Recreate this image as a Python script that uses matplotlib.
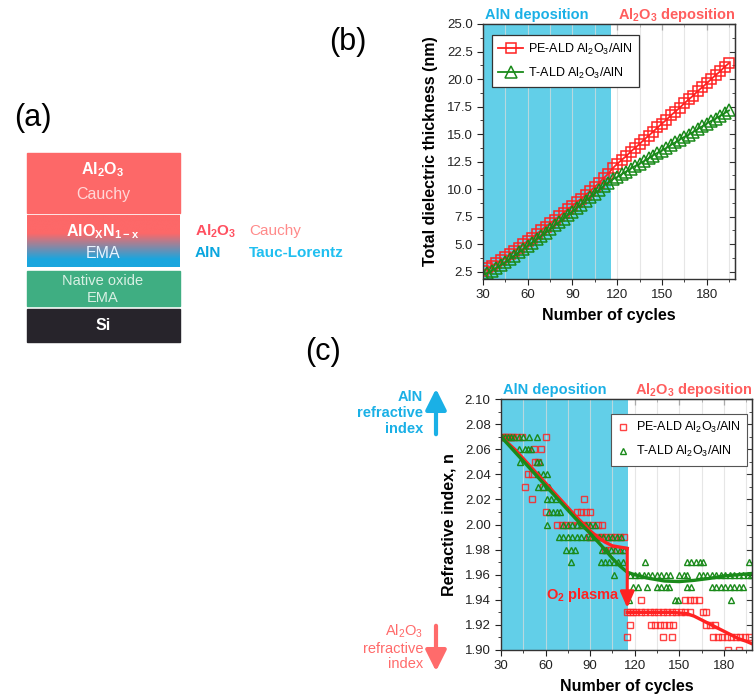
import numpy as np
import matplotlib
matplotlib.use('Agg')
import matplotlib.pyplot as plt
from matplotlib.patches import Rectangle
from matplotlib.ticker import MultipleLocator

plt.rcParams['font.family'] = ['Liberation Sans', 'DejaVu Sans']
plt.rcParams['mathtext.default'] = 'regular'

# ---- panel (b): total thickness vs cycles ----
cycles_b = list(range(30, 198, 3))
pe_thick = [2.6, 2.8, 3.05, 3.3, 3.55, 3.8, 4.1, 4.4, 4.7, 5.0,
            5.3, 5.6, 5.95, 6.25, 6.6, 6.9, 7.2, 7.55, 7.85, 8.2,
            8.5, 8.85, 9.15, 9.5, 9.85, 10.2, 10.6, 11.0, 11.4, 11.9,
            12.3, 12.65, 13.0, 13.4, 13.75, 14.1, 14.5, 14.85, 15.2, 15.6,
            15.95, 16.3, 16.7, 17.05, 17.4, 17.8, 18.15, 18.5, 18.9, 19.25,
            19.6, 20.0, 20.35, 20.7, 21.1, 21.45]
t_thick = [2.2, 2.4, 2.6, 2.85, 3.1, 3.35, 3.65, 3.95, 4.25, 4.55,
           4.85, 5.15, 5.45, 5.75, 6.05, 6.35, 6.7, 7.0, 7.3, 7.65,
           7.95, 8.3, 8.6, 8.95, 9.3, 9.6, 9.95, 10.3, 10.6, 10.9,
           11.1, 11.35, 11.6, 11.85, 12.1, 12.3, 12.55, 12.8, 13.05, 13.3,
           13.5, 13.75, 14.0, 14.25, 14.5, 14.75, 14.95, 15.2, 15.45, 15.7,
           15.95, 16.2, 16.4, 16.65, 16.9, 17.15]

# ---- panel (c): refractive index scatter ----
pe_x = [30.5, 32, 33.5, 35, 36.5, 38, 41, 44, 60,
        52, 57,
        53, 55,
        48, 51,
        46, 58,
        51, 86,
        60, 81, 84, 87, 90,
        68, 71, 74, 77, 82, 85, 88, 91, 95, 98,
        89, 92, 95, 98, 101, 104, 107, 110, 113,
        100, 104, 108, 112,
        124, 154, 157, 160, 163,
        115, 117, 119, 121, 124, 127, 130, 133, 136, 139, 142, 145, 148, 151, 154, 157, 166, 168,
        117, 131, 134, 137, 140, 143, 146, 168, 171, 174,
        115, 139, 145, 173, 176, 179, 182, 185, 188, 191, 194, 197,
        183, 190]
pe_n = [2.07] * 9 + [2.06] * 2 + [2.05] * 2 + [2.04] * 2 + [2.03] * 2 + [2.02] * 2 \
    + [2.01] * 5 + [2.00] * 10 + [1.99] * 9 + [1.98] * 4 + [1.94] * 5 \
    + [1.93] * 18 + [1.92] * 10 + [1.91] * 12 + [1.90] * 2

t_x = [31, 33, 35, 37, 39, 42, 45, 49, 54,
       42, 46, 48, 50,
       43, 54, 56,
       55, 58, 61,
       55, 58, 62,
       61, 64, 67,
       62, 65, 68, 70,
       61, 72, 75, 78, 81, 84, 87, 90, 93,
       69, 72, 75, 78, 81, 84, 87, 90, 93, 96, 99, 102, 105, 108, 111,
       74, 77, 80, 98, 101, 104, 107, 110, 113,
       77, 97, 100, 103, 106, 109, 112, 127, 155, 158, 161, 164, 166, 197,
       106, 117, 120, 123, 126, 129, 132, 135, 138, 141, 144, 150, 153, 155,
       163, 166, 169, 172, 175, 178, 181, 184, 187, 190, 193, 196, 198,
       119, 122, 128, 135, 138, 141, 143, 155, 158, 172, 175, 178, 181, 184, 187, 190, 193,
       116, 147, 149, 185]
t_n = [2.07] * 9 + [2.06] * 4 + [2.05] * 3 + [2.04] * 3 + [2.03] * 3 + [2.02] * 3 \
    + [2.01] * 4 + [2.00] * 9 + [1.99] * 15 + [1.98] * 9 + [1.97] * 14 \
    + [1.96] * 27 + [1.95] * 17 + [1.94] * 4

pe_fit1_x = [30, 40, 50, 60, 70, 80, 90, 95, 100, 105, 110, 115]
pe_fit1_n = [2.070, 2.059, 2.046, 2.033, 2.020, 2.007, 1.995, 1.990, 1.986, 1.983, 1.982, 1.981]
pe_fit2_x = [115, 125, 135, 145, 150, 155, 160, 165, 170, 175, 180, 185, 190, 195, 199]
pe_fit2_n = [1.930, 1.930, 1.930, 1.930, 1.9295, 1.929, 1.927, 1.924, 1.921, 1.918,
             1.915, 1.912, 1.909, 1.907, 1.905]
t_fit_x = [30, 40, 50, 60, 70, 80, 90, 100, 105, 110, 115, 120, 130, 140, 150,
           160, 170, 180, 190, 199]
t_fit_n = [2.070, 2.057, 2.044, 2.031, 2.018, 2.005, 1.993, 1.980, 1.973, 1.967,
           1.962, 1.960, 1.957, 1.955, 1.9545, 1.9555, 1.957, 1.959, 1.960, 1.961]

CYAN = '#62cfe8'
RED = '#ff2222'
GREEN = '#1a8a1a'
PINK = '#ff5e5e'
BLUE_T = '#1ab0e6'

fig = plt.figure(figsize=(7.56, 6.98), dpi=100)

# overlay in pixel coords for panel (a) and free text
ax0 = fig.add_axes([0, 0, 1, 1], zorder=0)
ax0.set_xlim(0, 756)
ax0.set_ylim(698, 0)
ax0.axis('off')

# ---- panel (a) layer stack ----
ax0.add_patch(Rectangle((27, 153), 153, 60, color='#fd6868'))
grad = np.linspace(0, 1, 100)
w = np.clip((grad - 0.35) / 0.5, 0, 1)[:, None, None]
top_c = np.array([253, 104, 104]) / 255
bot_c = np.array([26, 166, 222]) / 255
img = (1 - w) * top_c + w * bot_c
ax0.imshow(img, extent=(27, 180, 267, 215), aspect='auto', zorder=1)
ax0.add_patch(Rectangle((27, 271), 153, 35, color='#3fae82'))
ax0.add_patch(Rectangle((27, 309), 153, 33, color='#27242b'))

ax0.text(103, 170, r'Al$_2$O$_3$', color='white', fontsize=11.5, fontweight='bold', ha='center', va='center', zorder=3)
ax0.text(103, 195, 'Cauchy', color='#ffd8d8', fontsize=11.5, ha='center', va='center', zorder=3)
ax0.text(103, 232, r'AlO$_X$N$_{1-x}$', color='white', fontsize=11.5, fontweight='bold', ha='center', va='center', zorder=3)
ax0.text(103, 253, 'EMA', color='#e8f4ff', fontsize=11.5, ha='center', va='center', zorder=3)
ax0.text(103, 281, 'Native oxide', color='#d8f0e4', fontsize=10.5, ha='center', va='center', zorder=3)
ax0.text(103, 298, 'EMA', color='#d8f0e4', fontsize=10.5, ha='center', va='center', zorder=3)
ax0.text(103, 326, 'Si', color='white', fontsize=11.5, fontweight='bold', ha='center', va='center', zorder=3)

ax0.text(195, 231, r'Al$_2$O$_3$', color='#ff5060', fontsize=11, fontweight='bold', va='center')
ax0.text(249, 231, 'Cauchy', color='#ff8a8a', fontsize=11, va='center')
ax0.text(195, 253, 'AlN', color='#0aa6df', fontsize=11, fontweight='bold', va='center')
ax0.text(249, 253, 'Tauc-Lorentz', color='#20bff0', fontsize=11, fontweight='bold', va='center')

# panel letters
ax0.text(14, 118, '(a)', fontsize=22, va='center')
ax0.text(329, 42, '(b)', fontsize=22, va='center')
ax0.text(305, 352, '(c)', fontsize=22, va='center')

# deposition headers
for yy, x1, x3 in [(15, 485, 736), (390, 503, 753)]:
    ax0.text(x1, yy, 'AlN deposition', color=BLUE_T, fontsize=10.5, fontweight='bold', va='center')
    ax0.text(x3, yy, r'Al$_2$O$_3$ deposition', color=PINK, fontsize=10.5, fontweight='bold',
             va='center', ha='right')

# side labels for (c)
ax0.text(423, 413, 'AlN\nrefractive\nindex', color=BLUE_T, fontsize=10.5, fontweight='bold',
         ha='right', va='center', linespacing=1.15)
ax0.text(423, 647, 'Al$_2$O$_3$\nrefractive\nindex', color='#ff6b6b', fontsize=10.5,
         ha='right', va='center', linespacing=1.15)
ax0.annotate('', xy=(436, 386), xytext=(436, 437),
             arrowprops=dict(arrowstyle='-|>,head_width=0.45,head_length=0.9', lw=3,
                             color=BLUE_T, mutation_scale=14))
ax0.annotate('', xy=(436, 674), xytext=(436, 623),
             arrowprops=dict(arrowstyle='-|>,head_width=0.45,head_length=0.9', lw=3,
                             color='#ff6b6b', mutation_scale=14))


def style_axes(ax):
    ax.xaxis.set_major_locator(MultipleLocator(30))
    ax.xaxis.set_minor_locator(MultipleLocator(15))
    ax.grid(True, which='both', axis='x', color='#dcdcdc', lw=0.8, alpha=0.7, zorder=0.5)
    ax.set_axisbelow(False)
    ax.tick_params(which='major', direction='out', length=4, labelsize=9.5, colors='#222')
    ax.tick_params(which='minor', direction='out', length=2.5, colors='#222')
    for s in ax.spines.values():
        s.set_color('#333')
        s.set_linewidth(1)
        s.set_zorder(5)
    top = ax.secondary_xaxis('top')
    top.xaxis.set_major_locator(MultipleLocator(30))
    top.xaxis.set_minor_locator(MultipleLocator(15))
    top.tick_params(which='both', direction='in', labeltop=False, colors='#333')
    top.tick_params(which='major', length=4)
    top.tick_params(which='minor', length=2.5)
    right = ax.secondary_yaxis('right')
    right.yaxis.set_major_locator(ax.yaxis.get_major_locator())
    right.yaxis.set_minor_locator(ax.yaxis.get_minor_locator())
    right.tick_params(which='both', direction='in', labelright=False, colors='#333')
    right.tick_params(which='major', length=4)
    right.tick_params(which='minor', length=2.5)


# ---- panel (b) ----
axb = fig.add_axes([483 / 756, 1 - 279 / 698, 252 / 756, 255 / 698], zorder=2)
axb.axvspan(30, 116, color=CYAN, lw=0, zorder=0.2)
axb.plot(cycles_b, pe_thick, '-s', color=RED, mfc='none', ms=7.5, mew=1.1, lw=1.3,
         label=r'PE-ALD Al$_2$O$_3$/AlN', zorder=3)
axb.plot(cycles_b, t_thick, '-^', color=GREEN, mfc='none', ms=8, mew=1.1, lw=1.3,
         label=r'T-ALD Al$_2$O$_3$/AlN', zorder=3)
axb.set_xlim(30, 199)
axb.set_ylim(1.84, 25.0)
axb.yaxis.set_major_locator(MultipleLocator(2.5))
axb.yaxis.set_minor_locator(MultipleLocator(1.25))
axb.yaxis.set_major_formatter(matplotlib.ticker.FormatStrFormatter('%.1f'))
style_axes(axb)
axb.set_xlabel('Number of cycles', fontsize=11.5, fontweight='bold', labelpad=5)
axb.set_ylabel('Total dielectric thickness (nm)', fontsize=11.5, fontweight='bold', labelpad=6)
leg = axb.legend(loc='upper left', bbox_to_anchor=(0.035, 0.955), borderaxespad=0,
                 fontsize=9, fancybox=False, framealpha=1, edgecolor='#333',
                 handlelength=2.0, handletextpad=0.4, borderpad=0.5, labelspacing=0.7)
leg.get_frame().set_linewidth(0.9)
leg.set_zorder(6)

# ---- panel (c) ----
axc = fig.add_axes([501 / 756, 1 - 650 / 698, 251 / 756, 251 / 698], zorder=2)
axc.axvspan(30, 115.5, color=CYAN, lw=0, zorder=0.2)
axc.plot(pe_x, pe_n, 's', color=RED, mfc='none', ms=4, mew=1.0,
         label=r'PE-ALD Al$_2$O$_3$/AlN', zorder=3, alpha=0.85)
axc.plot(t_x, t_n, '^', color=GREEN, mfc='none', ms=5, mew=1.0,
         label=r'T-ALD Al$_2$O$_3$/AlN', zorder=3)
axc.plot(pe_fit1_x, pe_fit1_n, '-', color=RED, lw=2.4, zorder=4)
axc.plot(pe_fit2_x, pe_fit2_n, '-', color=RED, lw=2.4, zorder=4)
axc.plot(t_fit_x, t_fit_n, '-', color=GREEN, lw=2.4, zorder=4)
axc.annotate('', xy=(115, 1.9335), xytext=(115, 1.981),
             arrowprops=dict(arrowstyle='-|>,head_width=0.35,head_length=0.8', lw=2.2,
                             color=RED, mutation_scale=12, shrinkA=0, shrinkB=0), zorder=4)
axc.text(110.5, 1.944, r'O$_2$ plasma', color=RED, fontsize=10.5, fontweight='bold',
         ha='right', va='center', zorder=4)
axc.set_xlim(30, 199)
axc.set_ylim(1.90, 2.10)
axc.yaxis.set_major_locator(MultipleLocator(0.02))
axc.yaxis.set_minor_locator(MultipleLocator(0.01))
axc.yaxis.set_major_formatter(matplotlib.ticker.FormatStrFormatter('%.2f'))
style_axes(axc)
axc.set_xlabel('Number of cycles', fontsize=11.5, fontweight='bold', labelpad=5)
axc.set_ylabel('Refractive index, n', fontsize=11.5, fontweight='bold', labelpad=6)
leg2 = axc.legend(loc='upper left', bbox_to_anchor=(0.44, 0.94), borderaxespad=0,
                  fontsize=9, fancybox=False, framealpha=1, edgecolor='#555',
                  handlelength=0.8, handletextpad=0.7, borderpad=0.5, labelspacing=0.7)
leg2.get_frame().set_linewidth(0.8)
leg2.set_zorder(6)

fig.savefig('out.png', dpi=100)
